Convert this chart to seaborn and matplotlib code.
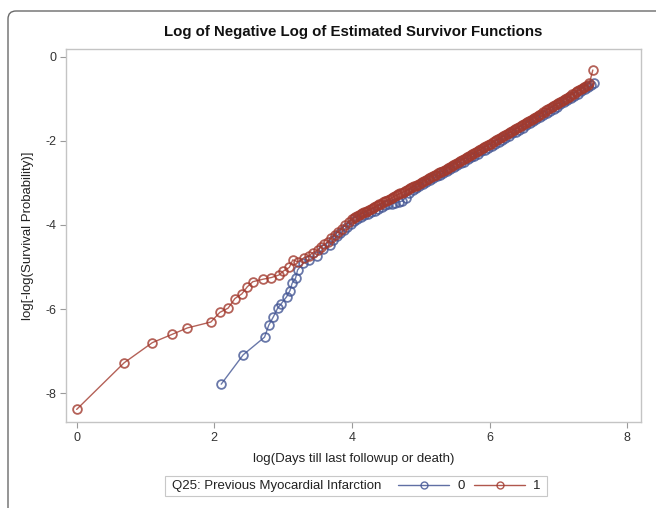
import matplotlib
matplotlib.use("Agg")
import matplotlib.pyplot as plt
import seaborn as sns
import pandas as pd
from matplotlib.lines import Line2D
from matplotlib.patches import FancyBboxPatch, Rectangle

# ---------------- data ----------------
title = "Log of Negative Log of Estimated Survivor Functions"
x_label = "log(Days till last followup or death)"
y_label = "log[-log(Survival Probability)]"
legend_title = "Q25: Previous Myocardial Infarction"
groups = ["0", "1"]
x_ticks = [0, 2, 4, 6, 8]
y_ticks = [0, -2, -4, -6, -8]

x_grp0 = [2.10, 2.42, 2.73, 2.79, 2.86, 2.92, 2.97, 3.05, 3.10, 3.13, 3.18, 3.21,
          3.29, 3.38, 3.49, 3.58, 3.68,
          3.73, 3.78, 3.83, 3.88, 3.93, 3.98, 4.03, 4.08, 4.13, 4.18, 4.23, 4.28,
          4.33, 4.38, 4.43, 4.48, 4.53, 4.58, 4.63, 4.68, 4.73, 4.78, 4.83, 4.88,
          4.93, 4.98, 5.03, 5.08, 5.13, 5.18, 5.23, 5.28, 5.33, 5.38, 5.43, 5.48,
          5.53, 5.58, 5.63, 5.68, 5.73, 5.78, 5.83, 5.88, 5.93, 5.98, 6.03, 6.08,
          6.13, 6.18, 6.23, 6.28, 6.33, 6.38, 6.43, 6.48, 6.53, 6.58, 6.63, 6.68,
          6.73, 6.78, 6.83, 6.88, 6.93, 6.98, 7.03, 7.08, 7.13, 7.18, 7.23, 7.28,
          7.33, 7.38, 7.43, 7.48, 7.52]
y_grp0 = [-7.79, -7.09, -6.67, -6.39, -6.18, -5.98, -5.88, -5.71, -5.56, -5.39, -5.27, -5.07,
          -4.91, -4.83, -4.74, -4.56, -4.48,
          -4.36, -4.27, -4.20, -4.12, -4.04, -3.97, -3.90, -3.86, -3.81, -3.77, -3.73, -3.69,
          -3.66, -3.62, -3.57, -3.53, -3.51, -3.49, -3.47, -3.45, -3.43, -3.35, -3.25, -3.17,
          -3.11, -3.06, -3.02, -2.97, -2.93, -2.88, -2.84, -2.80, -2.76, -2.71, -2.66, -2.62,
          -2.58, -2.53, -2.49, -2.44, -2.39, -2.35, -2.30, -2.25, -2.21, -2.16, -2.11, -2.06,
          -2.02, -1.97, -1.92, -1.87, -1.82, -1.78, -1.73, -1.68, -1.63, -1.58, -1.53, -1.48,
          -1.43, -1.38, -1.33, -1.28, -1.23, -1.18, -1.13, -1.08, -1.03, -0.98, -0.93, -0.88,
          -0.82, -0.77, -0.72, -0.67, -0.62]

x_grp1 = [0.00, 0.69, 1.10, 1.39, 1.61, 1.95, 2.08, 2.20, 2.30, 2.40, 2.48, 2.56,
          2.71, 2.83, 2.94, 3.00, 3.09, 3.14, 3.22, 3.30, 3.37, 3.43, 3.50,
          3.55, 3.60, 3.65, 3.70, 3.75, 3.80, 3.85, 3.90, 3.95,
          4.000, 4.025, 4.050, 4.075, 4.100, 4.125, 4.150, 4.175, 4.200, 4.225,
          4.250, 4.275, 4.300, 4.325, 4.350, 4.375, 4.400, 4.425, 4.450, 4.475,
          4.500, 4.525, 4.550, 4.575, 4.600, 4.625, 4.650, 4.675, 4.700, 4.725,
          4.750, 4.775, 4.800, 4.825, 4.850, 4.875, 4.900, 4.925, 4.950, 4.975,
          5.000, 5.025, 5.050, 5.075, 5.100, 5.125, 5.150, 5.175, 5.200, 5.225,
          5.250, 5.275, 5.300, 5.325, 5.350, 5.375, 5.400, 5.425, 5.450, 5.475,
          5.500, 5.525, 5.550, 5.575, 5.600, 5.625, 5.650, 5.675, 5.700, 5.725,
          5.750, 5.775, 5.800, 5.825, 5.850, 5.875, 5.900, 5.925, 5.950, 5.975,
          6.000, 6.025, 6.050, 6.075, 6.100, 6.125, 6.150, 6.175, 6.200, 6.225,
          6.250, 6.275, 6.300, 6.325, 6.350, 6.375, 6.400, 6.425, 6.450, 6.475,
          6.500, 6.525, 6.550, 6.575, 6.600, 6.625, 6.650, 6.675, 6.700, 6.725,
          6.750, 6.775, 6.800, 6.825, 6.850, 6.875, 6.900, 6.925, 6.950, 6.975,
          7.000, 7.025, 7.050, 7.075, 7.100, 7.125, 7.150, 7.175, 7.200, 7.225,
          7.250, 7.275, 7.300, 7.325, 7.350, 7.375, 7.400, 7.425, 7.450, 7.500]
y_grp1 = [-8.39, -7.28, -6.80, -6.60, -6.45, -6.31, -6.08, -5.98, -5.75, -5.64, -5.47, -5.35,
          -5.29, -5.25, -5.19, -5.10, -5.01, -4.83, -4.88, -4.78, -4.74, -4.66, -4.60,
          -4.53, -4.46, -4.40, -4.31, -4.24, -4.16, -4.09, -4.01, -3.93,
          -3.86, -3.84, -3.81, -3.79, -3.77, -3.74, -3.72, -3.70, -3.68, -3.66,
          -3.64, -3.62, -3.60, -3.57, -3.55, -3.53, -3.51, -3.49, -3.46, -3.44,
          -3.42, -3.40, -3.38, -3.36, -3.33, -3.31, -3.29, -3.27, -3.25, -3.23,
          -3.21, -3.19, -3.17, -3.15, -3.12, -3.10, -3.08, -3.06, -3.04, -3.02,
          -3.00, -2.98, -2.95, -2.93, -2.91, -2.89, -2.86, -2.84, -2.82, -2.80,
          -2.77, -2.75, -2.73, -2.71, -2.68, -2.66, -2.64, -2.62, -2.59, -2.57,
          -2.55, -2.52, -2.50, -2.48, -2.45, -2.43, -2.41, -2.38, -2.36, -2.34,
          -2.31, -2.29, -2.27, -2.24, -2.22, -2.20, -2.17, -2.15, -2.13, -2.10,
          -2.08, -2.06, -2.03, -2.01, -1.98, -1.96, -1.94, -1.91, -1.89, -1.86,
          -1.84, -1.82, -1.79, -1.77, -1.74, -1.72, -1.69, -1.67, -1.65, -1.62,
          -1.60, -1.57, -1.55, -1.52, -1.50, -1.47, -1.45, -1.42, -1.40, -1.37,
          -1.35, -1.32, -1.30, -1.27, -1.25, -1.22, -1.20, -1.17, -1.15, -1.12,
          -1.10, -1.07, -1.05, -1.02, -1.00, -0.97, -0.95, -0.92, -0.89, -0.87,
          -0.84, -0.81, -0.79, -0.76, -0.74, -0.71, -0.68, -0.66, -0.63, -0.31]

colors = ["#445694", "#A23A2E"]

# ---------------- figure ----------------
sns.set_theme(style="white")
plt.rcParams["font.family"] = ["Liberation Sans", "DejaVu Sans"]

fig = plt.figure(figsize=(6.56, 5.08), dpi=100)
ax = fig.add_axes([66 / 656, 1 - 422 / 508, (641 - 66) / 656, (422 - 49) / 508])

df0 = pd.DataFrame({"x": x_grp0, "y": y_grp0})
df1 = pd.DataFrame({"x": x_grp1, "y": y_grp1})
for df, c in [(df0, colors[0]), (df1, colors[1])]:
    sns.lineplot(data=df, x="x", y="y", ax=ax, color=c, sort=False, estimator=None,
                 marker="o", markersize=6.3, markerfacecolor="none", alpha=0.8,
                 markeredgecolor=c, markeredgewidth=1.3, linewidth=1.0)

ax.set_xlim(-0.155, 8.20)
ax.set_ylim(-8.69, 0.19)
ax.set_xticks(x_ticks)
ax.set_yticks(y_ticks)
ax.set_xticklabels([str(t) for t in x_ticks])
ax.set_yticklabels([str(t) for t in y_ticks])
ax.tick_params(axis="both", which="both", direction="out", length=4, width=0.8,
               color="#9a9a9a", labelsize=9, labelcolor="#333333", pad=3,
               bottom=True, left=True)
for s in ax.spines.values():
    s.set_color("#c4c4c4")
    s.set_linewidth(1.0)

ax.set_xlabel(x_label, fontsize=9.5, color="#222222", labelpad=7)
ax.set_ylabel(y_label, fontsize=9.5, color="#222222", labelpad=8)
ax.set_title(title, fontsize=10.8, fontweight="bold", color="#111111", pad=9)

# legend: frame + title text + library legend entries
fig.patches.append(Rectangle((165, 12), 382, 20, transform=None, facecolor="none",
                             edgecolor="#c8c8c8", linewidth=0.8))
fig.text(172 / 656, 22 / 508, legend_title, fontsize=9.5, color="#222222",
         ha="left", va="center")
handles = [Line2D([], [], color=colors[0], marker="o", markerfacecolor="none",
                  markeredgecolor=colors[0], markersize=5, linewidth=1.0, alpha=0.85),
           Line2D([], [], color=colors[1], marker="o", markerfacecolor="none",
                  markeredgecolor=colors[1], markersize=5, linewidth=1.0, alpha=0.85)]
leg = fig.legend(handles, groups, loc="center left", bbox_to_anchor=(398 / 656, 22 / 508),
                 ncol=2, frameon=False, fontsize=9.5, handlelength=3.9,
                 handletextpad=0.6, columnspacing=0.7, borderpad=0.0, borderaxespad=0.0)
for t in leg.get_texts():
    t.set_color("#222222")

# card border
card = FancyBboxPatch((8, -30), 720, 508 - 11 + 30, boxstyle="round,pad=0,rounding_size=8",
                      transform=None, facecolor="none", edgecolor="#6a6a6a", linewidth=1.0)
fig.patches.append(card)

fig.savefig("out.png", dpi=100)
